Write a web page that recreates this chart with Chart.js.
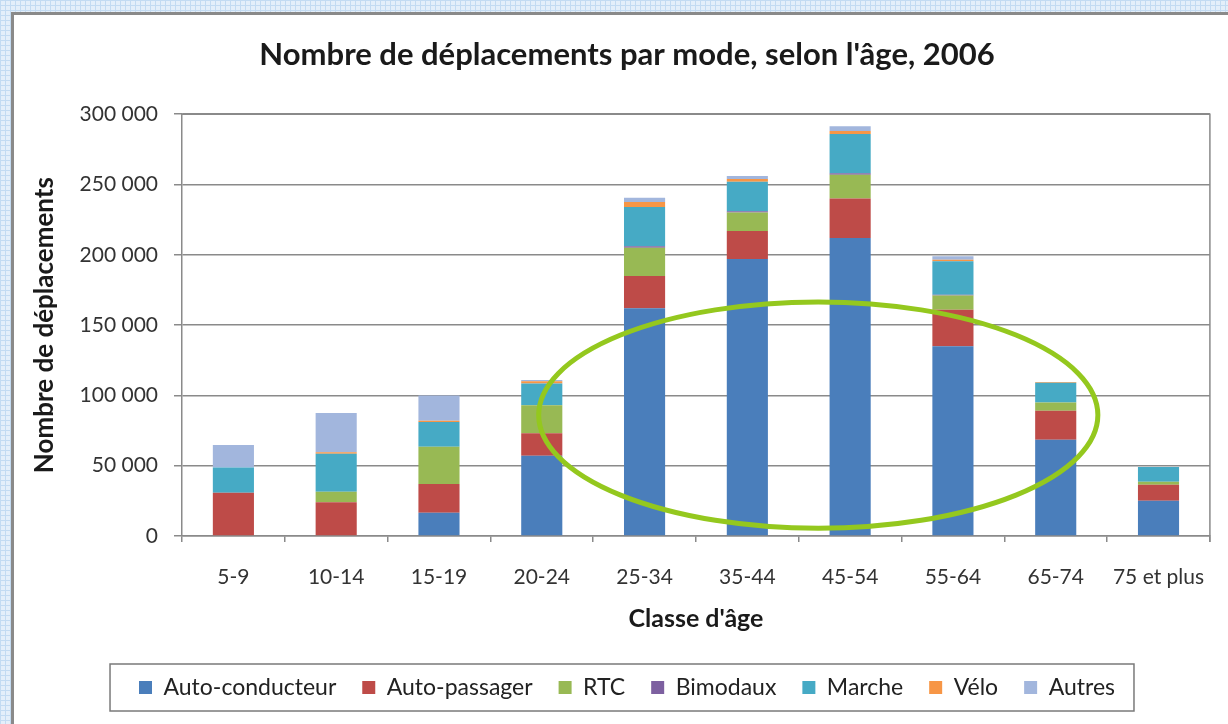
<!DOCTYPE html>
<html>
<head>
<meta charset="utf-8">
<script src="https://cdn.jsdelivr.net/npm/chart.js@4.4.1/dist/chart.umd.min.js"></script>
<style>
  html, body { margin: 0; padding: 0; }
  body {
    width: 1228px; height: 724px; overflow: hidden; position: relative;
    background-color: #e4effa;
    background-image: linear-gradient(#c3dbf2 1px, transparent 1px),
                      linear-gradient(90deg, #c3dbf2 1px, transparent 1px);
    background-size: 5px 5px;
  }
  #frame {
    position: absolute; left: 11px; top: 12px; width: 1240px; height: 730px;
    background: #fff; border: 3px solid #8a8a8a;
  }
  #chart { position: absolute; left: 0; top: 0; }
</style>
</head>
<body>
<div id="frame"></div>
<canvas id="chart" width="1228" height="724"></canvas>
<script>
// ~ data
const ageGroups = ["5-9", "10-14", "15-19", "20-24", "25-34", "35-44", "45-54", "55-64", "65-74", "75 et plus"];

const autoConducteur = [0, 0, 16500, 57000, 162000, 197000, 212000, 135000, 68500, 25000];
const autoPassager = [30700, 24000, 20500, 16000, 23000, 20000, 28000, 26000, 20500, 11500];
const rtc = [0, 7500, 26500, 20000, 20000, 13000, 17000, 10000, 6000, 2000];
const bimodaux = [0, 0, 0, 0, 1000, 1000, 1000, 500, 0, 0];
const marche = [18000, 27000, 17500, 15500, 28000, 21000, 28000, 24000, 14000, 10500];
const velo = [0, 1000, 1000, 1500, 3500, 2000, 2000, 1000, 500, 0];
const autres = [16000, 28000, 18000, 1000, 3000, 2000, 3500, 2500, 0, 0];

const yTicks = [0, 50000, 100000, 150000, 200000, 250000, 300000];

// highlight ellipse, in axis units (category index, trips)
const ellipseCenter = [5.69, 86000];
const ellipseRadius = [2.72, 80500];

// ? helpers
// ? ==================================
function fmt(v) {
  return String(v).replace(/\B(?=(\d{3})+(?!\d))/g, " ");
}

function ds(label, values, color) {
  return {
    label: label,
    data: values,
    backgroundColor: color,
    borderWidth: 0,
    categoryPercentage: 1,
    barPercentage: 0.4,
  };
}

// plot area border + green ellipse + legend frame
const extras = {
  id: "extras",
  beforeDraw(chart) {
    const ctx = chart.ctx;
    const a = chart.chartArea;
    ctx.save();
    ctx.strokeStyle = "#8a8a8a";
    ctx.lineWidth = 1.5;
    ctx.beginPath();
    ctx.moveTo(a.left, a.top);
    ctx.lineTo(a.right, a.top);
    ctx.lineTo(a.right, a.bottom + 6);
    ctx.stroke();
    ctx.restore();
  },
  afterDraw(chart) {
    const ctx = chart.ctx;
    const x = chart.scales.x;
    const y = chart.scales.y;
    const cx = x.getPixelForValue(ellipseCenter[0]);
    const cy = y.getPixelForValue(ellipseCenter[1]);
    const rx = x.getPixelForValue(ellipseCenter[0] + ellipseRadius[0]) - cx;
    const ry = cy - y.getPixelForValue(ellipseCenter[1] + ellipseRadius[1]);
    ctx.save();
    ctx.strokeStyle = "#94c81e";
    ctx.lineWidth = 5;
    ctx.beginPath();
    ctx.ellipse(cx, cy, rx, ry, 0, 0, Math.PI * 2);
    ctx.stroke();

    const boxes = chart.legend.legendHitBoxes;
    if (boxes.length) {
      const first = boxes[0];
      const last = boxes[boxes.length - 1];
      const mid = first.top + first.height / 2;
      ctx.strokeStyle = "#7a7a7a";
      ctx.lineWidth = 1.5;
      ctx.strokeRect(first.left - 29, mid - 23.5, last.left + last.width - first.left + 48, 47);
    }
    ctx.restore();
  },
};

// * Display Chart:
// * ============================
const ctx = document.getElementById("chart").getContext("2d");
const chartInstance = new Chart(ctx, {
  type: "bar",
  data: {
    labels: ageGroups,
    datasets: [
      ds("Auto-conducteur", autoConducteur, "#4a7ebb"),
      ds("Auto-passager", autoPassager, "#be4b48"),
      ds("RTC", rtc, "#98b954"),
      ds("Bimodaux", bimodaux, "#7d60a0"),
      ds("Marche", marche, "#46aac5"),
      ds("Vélo", velo, "#f79646"),
      ds("Autres", autres, "#a2b6dd"),
    ],
  },
  options: {
    responsive: false,
    animation: false,
    layout: { padding: { left: 26, right: 0, top: 0, bottom: 15 } },
    plugins: {
      title: {
        display: true,
        text: "Nombre de déplacements par mode, selon l'âge, 2006",
        color: "#1a1a1a",
        font: { family: "Lato", size: 31, weight: "bold" },
        padding: { top: 36, bottom: 41 },
      },
      legend: {
        position: "bottom",
        labels: {
          color: "#222",
          font: { family: "Lato", size: 23 },
          boxWidth: 13,
          boxHeight: 13,
          padding: 26,
        },
      },
      tooltip: { enabled: false },
    },
    scales: {
      x: {
        stacked: true,
        grid: { display: true, drawOnChartArea: false, drawTicks: true, tickLength: 6, color: "#8a8a8a", lineWidth: 1.5 },
        border: { display: true, color: "#8a8a8a", width: 1.5 },
        ticks: { color: "#333", font: { family: "Lato", size: 21 }, padding: 23, maxRotation: 0 },
        title: {
          display: true,
          text: "Classe d'âge",
          color: "#1a1a1a",
          font: { family: "Lato", size: 25, weight: "bold" },
          padding: { top: 4, bottom: 16 },
        },
        afterFit(s) { s.height = 114; },
      },
      y: {
        stacked: true,
        min: 0,
        max: 300000,
        afterBuildTicks(s) { s.ticks = yTicks.map((v) => ({ value: v })); },
        grid: { color: "#8a8a8a", lineWidth: 1.5, tickLength: 8 },
        border: { display: true, color: "#8a8a8a", width: 1.5 },
        ticks: { color: "#333", font: { family: "Lato", size: 21 }, padding: 16, callback: (v) => fmt(v) },
        title: {
          display: true,
          text: "Nombre de déplacements",
          color: "#1a1a1a",
          font: { family: "Lato", size: 26, weight: "bold" },
          padding: { top: 3, bottom: 3 },
        },
        afterFit(s) { s.width = 156; },
      },
      yR: {
        position: "right",
        display: true,
        grid: { display: false },
        border: { display: false },
        ticks: { display: false },
        afterFit(s) { s.width = 18; },
      },
    },
  },
  plugins: [extras],
});
</script>
</body>
</html>
